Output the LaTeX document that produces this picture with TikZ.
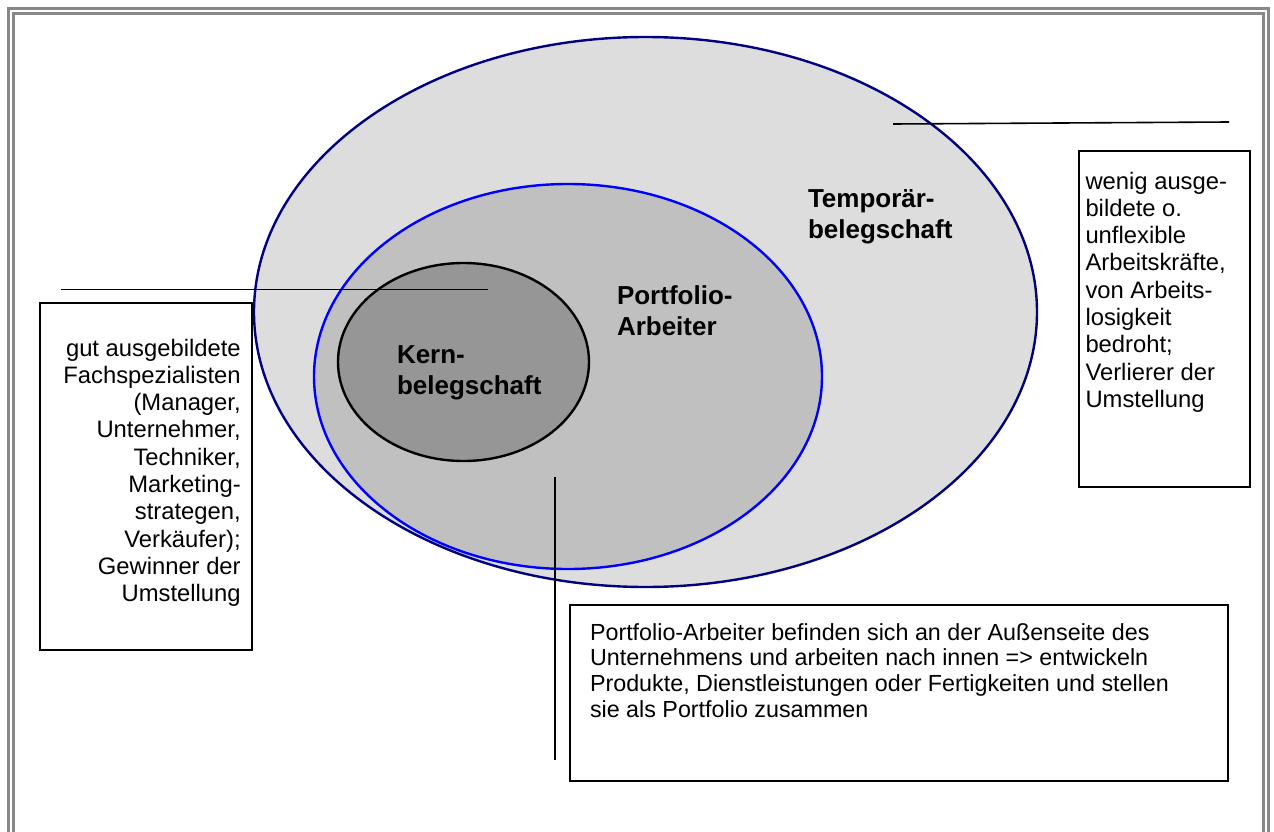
\documentclass[tikz,border=0pt]{standalone}
\usepackage{fontspec}
\setmainfont{Liberation Sans}
\usetikzlibrary{shapes.geometric}
\definecolor{framegray}{RGB}{136,136,136}
\definecolor{tempfill}{RGB}{221,221,221}
\definecolor{portfill}{RGB}{192,192,192}
\definecolor{kernfill}{RGB}{150,150,150}
\definecolor{navyline}{RGB}{0,0,128}
\definecolor{blueline}{RGB}{0,0,255}
\tikzset{
  zone/.style={ellipse, inner sep=0pt, outer sep=0pt, line width=2.4pt},
  infobox/.style={draw=black, line width=1.8pt, inner sep=0pt, outer sep=0pt},
  boxtext/.style={inner sep=0pt, outer sep=0pt},
  zonelabel/.style={inner sep=0pt, outer sep=0pt, anchor=base west},
  leader/.style={line width=1.6pt},
  frameline/.style={draw=framegray, line width=3pt},
}
\newcommand{\boxfont}{\fontsize{23.8}{27.3}\selectfont}
\newcommand{\labelfont}{\fontsize{26}{31}\selectfont\bfseries}
\begin{document}
\begin{tikzpicture}[x=1pt,y=-1pt]
\useasboundingbox (0,0) rectangle (1274,832);
% double frame
\draw[frameline] (8.5,845) -- (8.5,9) -- (1268,9) -- (1268,845);
\draw[frameline] (13.5,845) -- (13.5,14) -- (1263,14) -- (1263,845);

% nested zones
\node[zone, draw=navyline, fill=tempfill, minimum width=783pt, minimum height=550pt] (temp) at (645.5,312) {};
\node[zone, draw=blueline, fill=portfill, minimum width=508pt, minimum height=385pt] (port) at (568,376.5) {};
\node[zone, draw=black, fill=kernfill, minimum width=251pt, minimum height=198pt] (kern) at (463.5,362) {};

\node[zonelabel] (templabel) at (808,207) {\parbox[t]{200pt}{\labelfont Temporär-\\belegschaft}};
\node[zonelabel] (portlabel) at (617,304) {\parbox[t]{200pt}{\labelfont Portfolio-\\Arbeiter}};
\node[zonelabel] (kernlabel) at (397,363) {\parbox[t]{200pt}{\labelfont Kern-\\belegschaft}};

% leader lines
\coordinate (tl1) at (893,124);
\coordinate (tl2) at (1229,122);
\coordinate (kl1) at (61,289.5);
\coordinate (kl2) at (488,289.5);
\coordinate (pl1) at (555,477);
\coordinate (pl2) at (555,760);
\draw[leader] (tl1) -- (tl2);
\draw[leader] (kl1) -- (kl2);
\draw[leader] (pl1) -- (pl2);

% explanation boxes
\node[infobox, minimum width=171pt, minimum height=336pt] (tempbox) at (1164.5,319) {};
\node[infobox, minimum width=212pt, minimum height=347pt] (kernbox) at (146,476.5) {};
\node[infobox, minimum width=658pt, minimum height=176pt] (portbox) at (899,693) {};

\node[boxtext, anchor=base west] (temptext) at (1085.5,189) {\parbox[t]{165pt}{\raggedright\boxfont
wenig ausge-\\bildete o.\\unflexible\\Arbeitskräfte,\\von Arbeits-\\losigkeit\\bedroht;\\Verlierer der\\Umstellung}};

\node[boxtext, anchor=base east] (kerntext) at (240.7,356) {\parbox[t]{200pt}{\raggedleft\boxfont
gut ausgebildete\\Fachspezialisten\\(Manager,\\Unternehmer,\\Techniker,\\Marketing-\\strategen,\\Verkäufer);\\Gewinner der\\Umstellung}};

\node[boxtext, anchor=base west] (porttext) at (590,640) {\parbox[t]{630pt}{\raggedright\fontsize{23.3}{25.7}\selectfont
Portfolio-Arbeiter befinden sich an der Außenseite des\\Unternehmens und arbeiten nach innen => entwickeln\\Produkte, Dienstleistungen oder Fertigkeiten und stellen\\sie als Portfolio zusammen}};
\end{tikzpicture}
\end{document}
